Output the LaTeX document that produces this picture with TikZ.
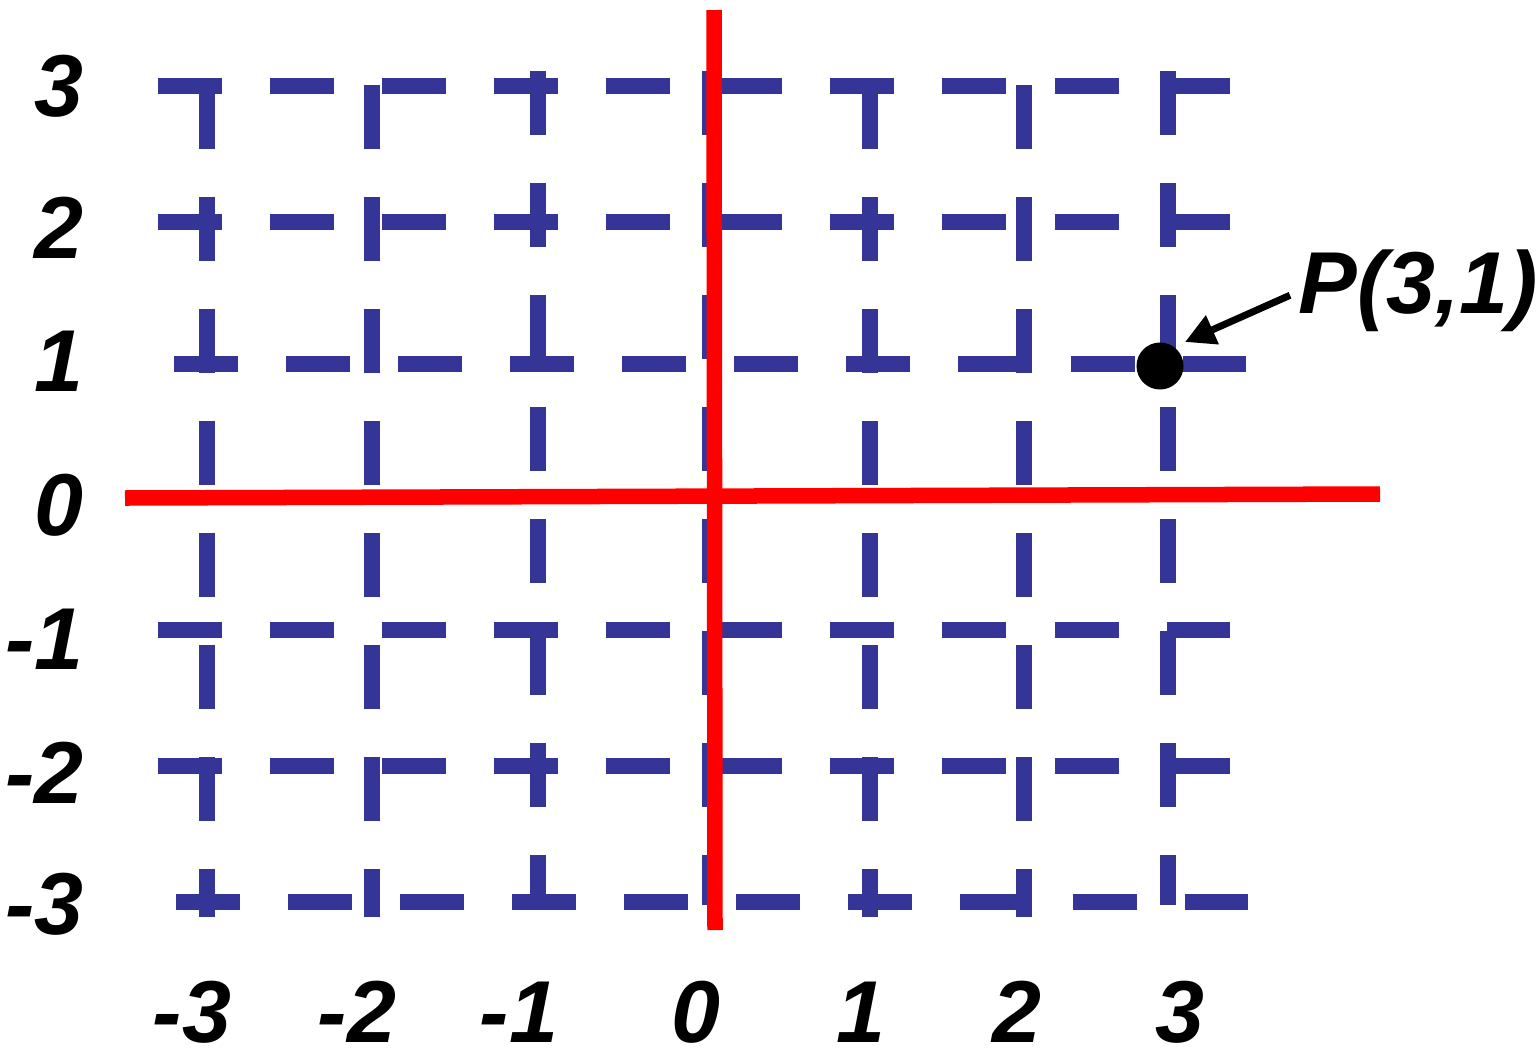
\documentclass[tikz,border=0pt]{standalone}
\usepackage{fontspec}
\setmainfont{Liberation Sans}
\usetikzlibrary{arrows.meta}
\definecolor{gridblue}{RGB}{53,53,152}

\begin{document}
\begin{tikzpicture}[
  x=0.01cm, y=-0.01cm,
  gridline/.style={draw=gridblue, line width=0.16cm, dash pattern=on 0.64cm off 0.48cm},
  axis/.style={draw=red, line width=0.155cm},
  tick/.style={font=\fontsize{25}{28}\selectfont\bfseries\itshape, inner sep=0pt},
  pointer/.style={-{Triangle[length=0.3cm,width=0.3cm]}, line width=0.07cm},
]
\useasboundingbox (0,0) rectangle (1536,1057);
\foreach \y/\xa/\xb in {86/158/1230, 222/158/1230, 364/174/1246, 630/158/1230, 766/158/1230, 902/176/1248}
  \draw[gridline] (\xa,\y) -- (\xb,\y);
\foreach \x/\ya/\yb in {207/85/917, 372/85/917, 538/71/905, 710/71/905, 870/85/917, 1024/85/917, 1168/71/905}
  \draw[gridline] (\x,\ya) -- (\x,\yb);
\draw[axis] (125,498) -- (1380,494);
\draw[axis] (714,10) -- (715,930);
\foreach \v/\y in {3/86, 2/228, 1/361, 0/505, -1/639, -2/773, -3/904}
  \node[tick, anchor=east] (ylab\v) at (84,\y) {\v};
\foreach \v/\x in {-3/192, -2/357, -1/519, 0/696, 1/861, 2/1017, 3/1180}
  \node[tick] (xlab\v) at (\x,1012) {\v};
\node[circle, fill=black, minimum size=0.47cm, inner sep=0pt] (P) at (1160,366) {};
\node[tick, anchor=base west] (plabel) at (1298,313) {P(3,1)};
\coordinate (tip) at (1185,342);
\draw[pointer] ([xshift=-0.08cm,yshift=-0.05cm]plabel.west) -- (tip);
\end{tikzpicture}
\end{document}
